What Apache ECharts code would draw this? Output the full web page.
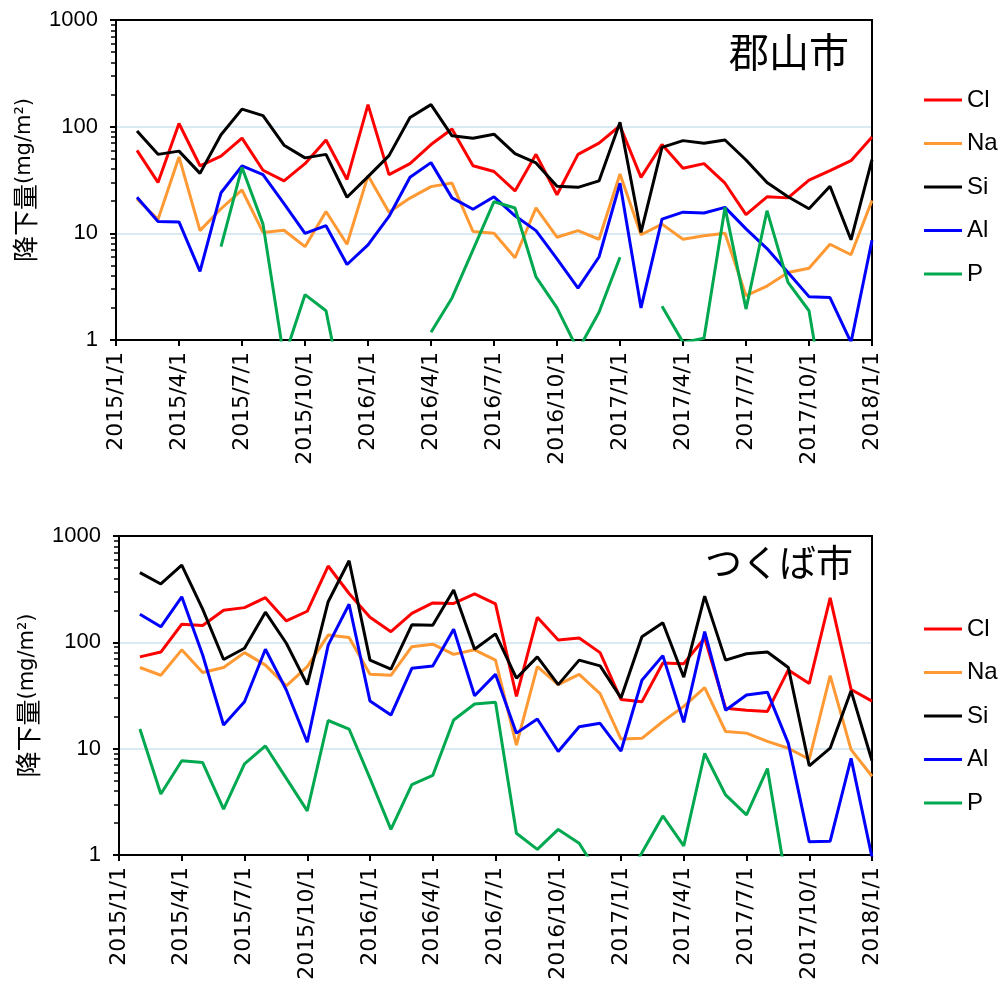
<!DOCTYPE html>
<html>
<head>
<meta charset="utf-8">
<script src="https://cdn.jsdelivr.net/npm/echarts@6/dist/echarts.min.js"></script>
<style>
  html, body { margin: 0; padding: 0; background: #fff; }
  #chart { width: 998px; height: 987px; }
</style>
</head>
<body>
<div id="chart"></div>
<script>
// 採取日（月ごと）
const sampleDates = [
    '2015/2/1', '2015/3/1', '2015/4/1', '2015/5/1', '2015/6/1', '2015/7/1',
    '2015/8/1', '2015/9/1', '2015/10/1', '2015/11/1', '2015/12/1', '2016/1/1',
    '2016/2/1', '2016/3/1', '2016/4/1', '2016/5/1', '2016/6/1', '2016/7/1',
    '2016/8/1', '2016/9/1', '2016/10/1', '2016/11/1', '2016/12/1', '2017/1/1',
    '2017/2/1', '2017/3/1', '2017/4/1', '2017/5/1', '2017/6/1', '2017/7/1',
    '2017/8/1', '2017/9/1', '2017/10/1', '2017/11/1', '2017/12/1', '2018/1/1'
];
const tickLabels = [
    '2015/1/1', '2015/4/1', '2015/7/1', '2015/10/1', '2016/1/1', '2016/4/1', '2016/7/1',
    '2016/10/1', '2017/1/1', '2017/4/1', '2017/7/1', '2017/10/1', '2018/1/1'
];
const elements = ['Cl', 'Na', 'Si', 'Al', 'P'];
const colors = ['#ff0000', '#ff9933', '#000000', '#0000ff', '#00a84f'];
const yMinorTicks = [1, 2, 3, 4, 5, 6, 7, 8, 9, 10, 20, 30, 40, 50, 60, 70, 80, 90,
    100, 200, 300, 400, 500, 600, 700, 800, 900, 1000];

// 郡山市
const koriyamaCl = [60, 30, 107, 43, 53, 78, 39, 31, 45, 75, 32, 161, 35.5, 45, 68, 95, 43, 38,
    25, 55, 23, 55, 70, 102, 33.5, 68, 40.7, 45, 29.5, 15, 22, 21.5, 31.6, 38.7, 48, 80];
const koriyamaNa = [21, 13.5, 52, 10.6, 17, 25.5, 10.2, 10.7, 7.5, 16, 7.9, 34.8, 15.8, 21.4, 27.4, 29.6, 10.4, 10,
    5.9, 17.3, 9.2, 10.6, 8.8, 36, 9.7, 12.2, 8.8, 9.5, 10, 2.6, 3.2, 4.3, 4.7, 7.9, 6.3, 20.3];
const koriyamaSi = [91, 55, 59, 36.5, 84, 146, 127, 67, 51, 55, 21.8, 34, 53.5, 122, 161, 82, 78, 85,
    56, 45.7, 27.6, 27, 31, 110, 10.2, 64, 74, 70, 75, 48.7, 30, 22, 17, 27.6, 8.7, 49];
const koriyamaAl = [21.8, 12.9, 12.8, 4.4, 24, 42.8, 35.5, 19, 10, 11.8, 5.1, 7.8, 14.4, 33.5, 46, 21.5, 16.8, 22,
    14.6, 10.6, 5.75, 3.07, 6.0, 29.5, 2.0, 13.6, 15.8, 15.5, 17.5, 11, 7.2, 4.3, 2.55, 2.5, 0.95, 8.6];
const koriyamaP = [null, null, null, null, 7.5, 41.5, 12.2, 0.67, 2.66, 1.88, 0.2, null, null, null, 1.18, 2.48, 7.0, 19.8,
    17.3, 3.9, 2.0, 0.8, 1.82, 5.96, null, 2.07, 0.95, 1.04, 17.5, 1.95, 16.3, 3.47, 1.88, 0.13, null, null];

// つくば市
const tsukubaCl = [73, 81, 148, 144, 200, 212, 263, 159, 196, 522, 288, 172, 126, 187, 235, 232, 285, 230,
    31, 172, 105, 110, 80, 29, 27.6, 64, 63, 110, 24, 23, 22.4, 55, 41, 262, 36, 28];
const tsukubaNa = [58, 49, 85, 52, 58, 80, 61, 39, 59, 117, 111, 50, 49, 91, 96, 77, 85, 68,
    10.8, 59, 40, 50, 33, 12.3, 12.5, 18, 25, 37.5, 14.5, 14, 11.7, 10.1, 7.95, 48.7, 9.8, 5.5];
const tsukubaSi = [452, 354, 532, 205, 69, 88, 192, 98, 40, 241, 585, 68, 56, 146, 145, 310, 86, 120,
    46, 73, 40, 68, 60, 30, 113, 153, 47, 272, 68, 78, 81, 58, 6.9, 10.1, 35, 7.7];
const tsukubaAl = [184, 140, 268, 76, 16.7, 27.6, 86, 35.6, 11.5, 94, 228, 28, 20.7, 57, 60, 133, 31.5, 50,
    14, 19, 9.4, 16.1, 17.3, 9.5, 44, 75, 17.7, 126, 23, 32, 34, 11.2, 1.33, 1.35, 8.1, 0.95];
const tsukubaP = [15.3, 3.75, 7.7, 7.4, 2.7, 7.2, 10.6, 5.25, 2.6, 18.4, 15.3, 5.25, 1.74, 4.6, 5.6, 18.6, 26.3, 27.3,
    1.6, 1.13, 1.74, 1.29, 0.63, 0.5, 1.05, 2.33, 1.22, 9.0, 3.67, 2.38, 6.5, 0.43, null, null, null, null];

const koriyama = [koriyamaCl, koriyamaNa, koriyamaSi, koriyamaAl, koriyamaP];
const tsukuba = [tsukubaCl, tsukubaNa, tsukubaSi, tsukubaAl, tsukubaP];

// 2015/1/1 からの月数
const monthIdx = sampleDates.map(d => {
    const p = d.split('/');
    return (parseInt(p[0]) - 2015) * 12 + (parseInt(p[1]) - 1);
});

const latin = '"Liberation Sans", Arial, sans-serif';
const cjk = '"Noto Sans CJK JP", sans-serif';

function makeX(idx) {
    return {
        type: 'value', gridIndex: idx, min: 0, max: 36, interval: 3,
        axisLine: { show: true, onZero: false, lineStyle: { color: '#000', width: 2 } },
        axisTick: { show: true, length: 6, lineStyle: { color: '#000', width: 2 } },
        axisLabel: {
            rotate: 90, interval: 0, margin: 12,
            fontSize: 22, fontFamily: '"DejaVu Sans", sans-serif', color: '#000',
            formatter: v => tickLabels[Math.round(v / 3)] || ''
        },
        splitLine: { show: false }
    };
}

// 目盛りラベル・補助線付きの主軸
function makeY(idx) {
    return {
        type: 'log', logBase: 10, gridIndex: idx, min: 1, max: 1000,
        name: '{a|降下量}{b|(mg/m²)}',
        nameLocation: 'middle', nameGap: 78, nameRotate: 90,
        nameTextStyle: {
            rich: {
                a: { fontSize: 26, fontFamily: cjk, color: '#000' },
                b: { fontSize: 21, fontFamily: '"DejaVu Sans", sans-serif', color: '#000' }
            }
        },
        axisLine: { show: true, onZero: false, lineStyle: { color: '#000', width: 2 } },
        axisTick: { show: true, length: 6, lineStyle: { color: '#000', width: 2 } },
        axisLabel: {
            margin: 18, fontSize: 22, fontFamily: latin, color: '#000',
            formatter: v => String(Math.round(v))
        },
        splitLine: {
            show: true, showMinLine: false, showMaxLine: false,
            lineStyle: { color: '#cde3ee', width: 1.5 }
        }
    };
}

// 2〜9 の細かい目盛りだけを描く軸
function makeMinorY(idx) {
    return {
        type: 'log', logBase: 10, gridIndex: idx, min: 1, max: 1000, position: 'left',
        axisLine: { show: false },
        axisTick: { show: true, length: 5, customValues: yMinorTicks, lineStyle: { color: '#000', width: 1.5 } },
        axisLabel: { show: false },
        splitLine: { show: false }
    };
}

function makeLegend(top) {
    return {
        data: elements, orient: 'vertical', left: 919, top: top,
        icon: 'rect', itemWidth: 38, itemHeight: 3, itemGap: 19.5,
        textStyle: { fontSize: 24, lineHeight: 24, fontFamily: latin, color: '#000' }
    };
}

const series = [];
[koriyama, tsukuba].forEach((set, g) => {
    set.forEach((vals, k) => {
        series.push({
            name: elements[k], type: 'line',
            xAxisIndex: g, yAxisIndex: g,
            data: vals.map((v, i) => [monthIdx[i], v == null ? '-' : v]),
            symbol: 'none', connectNulls: false, clip: true,
            lineStyle: { width: 3, color: colors[k] },
            itemStyle: { color: colors[k] }
        });
    });
});

const chart = echarts.init(document.getElementById('chart'));
chart.setOption({
    animation: false,
    backgroundColor: '#fff',
    title: [
        { text: '郡山市', left: 729, top: 32, padding: 0,
          textStyle: { fontSize: 40, fontWeight: 'normal', fontFamily: cjk, color: '#000' } },
        { text: 'つくば市', left: 705, top: 544, padding: 0,
          textStyle: { fontSize: 37, fontWeight: 'normal', fontFamily: cjk, color: '#000' } }
    ],
    legend: [makeLegend(83), makeLegend(612)],
    grid: [
        { left: 116, top: 20, width: 756, height: 320, show: true, borderColor: '#000', borderWidth: 2, z: 3 },
        { left: 119, top: 536, width: 753, height: 319, show: true, borderColor: '#000', borderWidth: 2, z: 3 }
    ],
    xAxis: [makeX(0), makeX(1)],
    yAxis: [makeY(0), makeY(1), makeMinorY(0), makeMinorY(1)],
    series: series
});
</script>
</body>
</html>
